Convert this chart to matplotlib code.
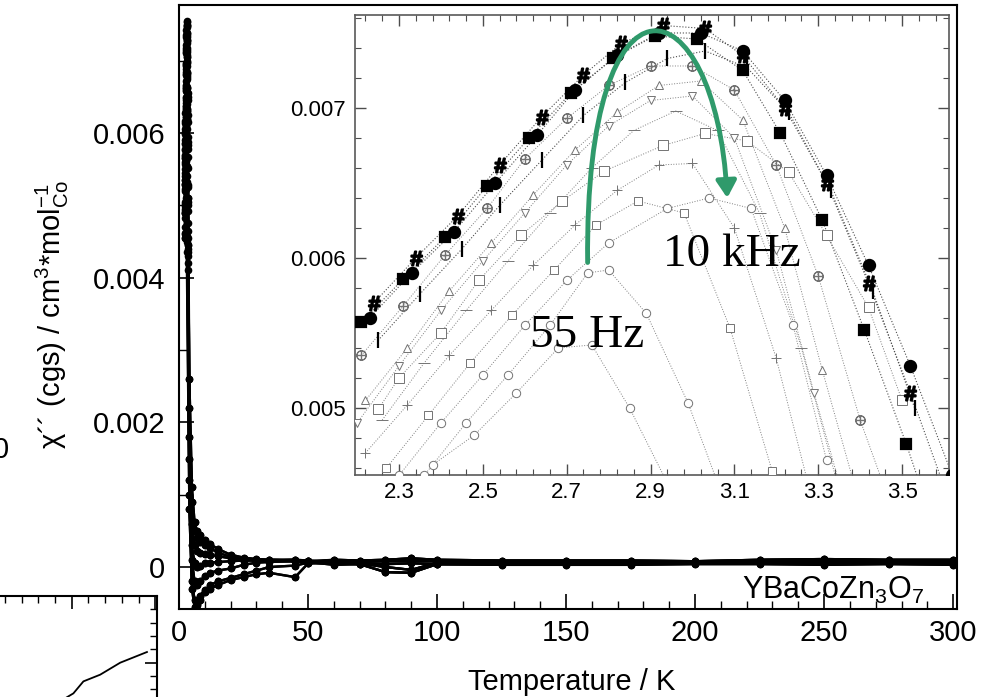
import numpy as np
import matplotlib
matplotlib.use('Agg')
import matplotlib.pyplot as plt
from matplotlib.ticker import MultipleLocator, FixedLocator, FuncFormatter
from matplotlib.patches import FancyArrowPatch
from matplotlib.path import Path

plt.rcParams['font.family'] = ['Liberation Sans', 'DejaVu Sans']
plt.rcParams['mathtext.fontset'] = 'custom'
plt.rcParams['mathtext.rm'] = 'Liberation Sans'
plt.rcParams['mathtext.it'] = 'Liberation Sans:italic'

# =============================================================================
# Inset data: chi'' (1e-3 cgs) vs T (K), one curve per frequency
# =============================================================================

T_A = [2.23, 2.33, 2.43, 2.53, 2.63, 2.72, 2.82, 2.92, 3.02, 3.12, 3.22, 3.32, 3.42, 3.52, 3.62]
y_A = [5.60, 5.90, 6.17, 6.50, 6.82, 7.12, 7.35, 7.50, 7.50, 7.38, 7.05, 6.55, 5.95, 5.28, 4.55]
T_B = [2.24, 2.34, 2.44, 2.54, 2.64, 2.74, 2.83, 2.93, 3.03, 3.12, 3.22, 3.32, 3.42, 3.52, 3.61]
y_B = [5.70, 6.00, 6.28, 6.62, 6.94, 7.22, 7.43, 7.55, 7.53, 7.35, 7.00, 6.50, 5.83, 5.10, 4.40]
T_C = [2.21, 2.31, 2.41, 2.51, 2.61, 2.71, 2.81, 2.91, 3.01, 3.12, 3.21, 3.31, 3.41, 3.51, 3.59]
y_C = [5.57, 5.86, 6.14, 6.48, 6.80, 7.10, 7.33, 7.48, 7.46, 7.25, 6.83, 6.25, 5.52, 4.76, 4.10]
T_D = [2.25, 2.35, 2.45, 2.54, 2.64, 2.74, 2.84, 2.94, 3.03, 3.13, 3.23, 3.33, 3.43, 3.53]
y_D = [5.45, 5.76, 6.06, 6.35, 6.65, 6.95, 7.17, 7.33, 7.38, 7.27, 6.97, 6.45, 5.78, 5.00]
T_E = [2.21, 2.31, 2.41, 2.51, 2.60, 2.70, 2.80, 2.90, 3.00, 3.10, 3.20, 3.30, 3.40, 3.48]
y_E = [5.35, 5.68, 6.02, 6.33, 6.66, 6.93, 7.15, 7.28, 7.28, 7.12, 6.62, 5.88, 4.92, 4.30]
T_F = [2.22, 2.32, 2.42, 2.52, 2.62, 2.72, 2.82, 2.92, 3.02, 3.12, 3.22, 3.31, 3.40]
y_F = [5.05, 5.40, 5.78, 6.10, 6.42, 6.72, 6.97, 7.15, 7.18, 6.92, 6.20, 5.25, 4.35]
T_G = [2.20, 2.30, 2.40, 2.50, 2.60, 2.70, 2.80, 2.90, 3.00, 3.10, 3.20, 3.29, 3.38]
y_G = [4.90, 5.28, 5.65, 5.98, 6.30, 6.62, 6.88, 7.05, 7.08, 6.80, 6.05, 5.10, 4.20]
T_H = [2.26, 2.36, 2.46, 2.56, 2.66, 2.76, 2.86, 2.96, 3.06, 3.16, 3.26, 3.35]
y_H = [4.92, 5.30, 5.65, 5.98, 6.30, 6.60, 6.85, 6.98, 6.85, 6.30, 5.40, 4.45]
T_I = [2.25, 2.30, 2.40, 2.49, 2.59, 2.69, 2.79, 2.93, 3.03, 3.13, 3.23, 3.32, 3.42, 3.50]
y_I = [4.99, 5.20, 5.50, 5.85, 6.15, 6.38, 6.58, 6.75, 6.83, 6.78, 6.57, 6.15, 5.67, 5.05]
T_J = [2.22, 2.32, 2.42, 2.52, 2.62, 2.72, 2.82, 2.92, 3.00, 3.10, 3.20, 3.28]
y_J = [4.70, 5.02, 5.35, 5.65, 5.95, 6.22, 6.45, 6.62, 6.63, 6.20, 5.33, 4.45]
T_K = [2.27, 2.37, 2.47, 2.57, 2.67, 2.77, 2.87, 2.98, 3.09, 3.19]
y_K = [4.60, 4.95, 5.30, 5.62, 5.92, 6.22, 6.38, 6.30, 5.53, 4.58]
T_L = [2.30, 2.40, 2.50, 2.60, 2.70, 2.80, 2.94, 3.04, 3.14, 3.24, 3.32]
y_L = [4.55, 4.90, 5.22, 5.55, 5.85, 6.10, 6.33, 6.40, 6.33, 5.55, 4.65]
T_M = [2.36, 2.46, 2.56, 2.66, 2.75, 2.80, 2.89, 2.99, 3.08]
y_M = [4.55, 4.90, 5.22, 5.55, 5.90, 5.92, 5.63, 5.03, 4.35]
T_N = [2.38, 2.48, 2.58, 2.68, 2.76, 2.85, 2.94]
y_N = [4.62, 4.82, 5.10, 5.40, 5.42, 5.00, 4.50]

# main plot continuation (1e-3 cgs)
T_fan = [4, 5, 6, 7, 8, 10, 12, 15, 20, 25, 30, 35, 45, 50]
fan0 = [2.6, 1.1, 0.62, 0.50, 0.44, 0.37, 0.32, 0.25, 0.17, 0.13, 0.11, 0.10, 0.09, 0.08]
fan1 = [2.2, 0.9, 0.50, 0.40, 0.35, 0.30, 0.26, 0.20, 0.14, 0.11, 0.10, 0.10, 0.10, 0.09]
fan2 = [1.8, 0.6, 0.30, 0.22, 0.20, 0.18, 0.17, 0.15, 0.12, 0.10, 0.09, 0.09, 0.08, 0.07]
fan3 = [1.5, 0.3, 0.05, 0.00, 0.02, 0.05, 0.06, 0.07, 0.08, 0.09, 0.09, 0.09, 0.10, 0.08]
fan4 = [1.2, 0.1, -0.20, -0.25, -0.20, -0.12, -0.08, -0.05, -0.02, 0.03, 0.06, 0.07, 0.08, 0.07]
fan5 = [1.0, -0.2, -0.45, -0.50, -0.40, -0.32, -0.25, -0.20, -0.15, -0.10, -0.05, 0.00, 0.02, 0.06]
fan6 = [0.8, -0.3, -0.55, -0.52, -0.45, -0.35, -0.30, -0.25, -0.18, -0.14, -0.10, -0.08, -0.14, 0.05]

T_tail = [60, 70, 80, 90, 100, 125, 150, 175, 200, 225, 250, 275, 300]
tail0 = [0.10, 0.09, 0.10, 0.12, 0.10, 0.09, 0.09, 0.09, 0.08, 0.10, 0.11, 0.10, 0.10]
tail1 = [0.08, 0.07, 0.08, 0.08, 0.08, 0.07, 0.07, 0.07, 0.07, 0.08, 0.09, 0.09, 0.08]
tail2 = [0.06, 0.05, 0.00, -0.04, 0.06, 0.06, 0.05, 0.06, 0.06, 0.07, 0.08, 0.07, 0.06]
tail3 = [0.05, 0.04, -0.07, -0.08, 0.04, 0.04, 0.04, 0.05, 0.05, 0.06, 0.05, 0.06, 0.05]
tail4 = [0.03, 0.04, 0.04, 0.05, 0.04, 0.03, 0.03, 0.03, 0.04, 0.04, 0.03, 0.04, 0.03]

# partial neighbouring panel (cut off at lower left)
x_side = [240, 247, 251, 257, 267, 279, 295]
y_side = [1.8, 2.4, 2.7, 3.6, 4.1, 5.0, 5.8]

fans = [fan0, fan1, fan2, fan3, fan4, fan5, fan6]
tails = [tail0, tail1, tail2, tail3, tail4]

# (T, y, marker, size, filled, fan, tail)
curves = [
    (T_A, y_A, 'o', 8, True, 0, 0),
    (T_B, y_B, r'$\#$', 10, True, 1, 1),
    (T_C, y_C, 's', 7.5, True, 0, 2),
    (T_D, y_D, '|', 11, True, 1, 3),
    (T_E, y_E, r'$\oplus$', 7, False, 2, 4),
    (T_F, y_F, '^', 6, False, 2, 0),
    (T_G, y_G, 'v', 6, False, 3, 1),
    (T_H, y_H, '_', 9, False, 3, 2),
    (T_I, y_I, 's', 7, False, 4, 3),
    (T_J, y_J, '+', 7, False, 4, 4),
    (T_K, y_K, 's', 6, False, 5, 0),
    (T_L, y_L, 'o', 6, False, 5, 1),
    (T_M, y_M, 'o', 6, False, 6, 2),
    (T_N, y_N, 'o', 6, False, 6, 3),
]

# =============================================================================
# Figure
# =============================================================================

fig = plt.figure(figsize=(9.98, 6.97), dpi=100)
ax = fig.add_axes([0.1794, 0.1263, 0.7795, 0.8665])

for T, y, m, ms, filled, fi, ti in curves:
    TT = list(T) + T_fan + T_tail
    yy = np.array(list(y) + fans[fi] + tails[ti]) * 1e-3
    ax.plot(TT, yy, '-', color='k', lw=1.7, marker='o', ms=4.5, mec='k', mfc='k')

ax.set_xlim(0, 301.5)
ax.set_ylim(-0.00058, 0.00777)
ax.xaxis.set_major_locator(MultipleLocator(50))
ax.xaxis.set_minor_locator(MultipleLocator(10))
ax.yaxis.set_major_locator(MultipleLocator(0.002))
ax.yaxis.set_minor_locator(MultipleLocator(0.001))
ax.yaxis.set_major_formatter(FuncFormatter(lambda v, p: '0' if abs(v) < 1e-9 else '%g' % v))
ax.tick_params(which='both', direction='in', top=False, right=False, labelsize=21)
ax.tick_params(which='major', length=11, width=1.2)
ax.tick_params(which='minor', length=6, width=1.0)
ax.tick_params(axis='x', pad=7)
ax.tick_params(axis='y', pad=10)
for s in ax.spines.values():
    s.set_linewidth(1.5)
ax.text(0.958, 0.03, 'YBaCoZn$_3$O$_7$', transform=ax.transAxes, ha='right',
        va='center', fontsize=22)

fig.text(572 / 998, 1 - 682 / 697, 'Temperature / K', ha='center', va='center', fontsize=21)
fig.text(52 / 998, 1 - 315 / 697, '\u03c7\u00b4\u00b4 (cgs) / cm$^{3}$*mol$_{\\mathrm{Co}}^{-1}$',
         rotation=90, ha='center', va='center', fontsize=21)

# =============================================================================
# Inset
# =============================================================================

ins = fig.add_axes([0.3557, 0.3185, 0.5952, 0.6600])
ins.set_zorder(5)
for T, y, m, ms, filled, fi, ti in curves:
    yy = np.array(y) * 1e-3
    if filled:
        ins.plot(T, yy, ls=':', color='0.3', lw=0.8, zorder=2)
        ins.plot(T, yy, ls='none', marker=m, ms=ms, color='k', mew=1.6, zorder=4)
    else:
        ins.plot(T, yy, ls=':', color='0.5', lw=0.7, zorder=2)
        ins.plot(T, yy, ls='none', marker=m, ms=ms, mfc='white', mec='0.45',
                 color='0.45', mew=0.7, zorder=3)

ins.set_xlim(2.195, 3.612)
ins.set_ylim(0.004553, 0.00762)
ins.xaxis.set_major_locator(FixedLocator([2.3, 2.5, 2.7, 2.9, 3.1, 3.3, 3.5]))
ins.xaxis.set_minor_locator(MultipleLocator(0.04, offset=0.02))
ins.yaxis.set_major_locator(MultipleLocator(0.001))
ins.yaxis.set_minor_locator(MultipleLocator(0.0002))
ins.xaxis.set_major_formatter(FuncFormatter(lambda v, p: '%.1f' % v))
ins.yaxis.set_major_formatter(FuncFormatter(lambda v, p: '%.3f' % v))
ins.tick_params(which='both', direction='in', top=True, right=True, labelsize=16,
                color='0.3')
ins.tick_params(which='major', length=8, width=1.0)
ins.tick_params(which='minor', length=4.5, width=0.8)
ins.tick_params(axis='y', pad=7)
ins.tick_params(axis='x', pad=5)
for s in ins.spines.values():
    s.set_linewidth(1.2)
    s.set_color('0.35')

# green arrow from 55 Hz to 10 kHz
verts = [(2.750, 0.00597), (2.742, 0.00805), (3.055, 0.00785), (3.083, 0.00640)]
path = Path(verts, [Path.MOVETO, Path.CURVE4, Path.CURVE4, Path.CURVE4])
arr = FancyArrowPatch(path=path, arrowstyle='-|>,head_length=10,head_width=6',
                      color='#2f9a6b', lw=3.5, zorder=6)
ins.add_patch(arr)
ins.text(0.5185, 0.454, '10 kHz', transform=ins.transAxes, fontsize=34,
         family='Liberation Serif', ha='left', va='baseline', zorder=7)
ins.text(0.2946, 0.278, '55 Hz', transform=ins.transAxes, fontsize=34,
         family='Liberation Serif', ha='left', va='baseline', zorder=7)

# =============================================================================
# Edge of the neighbouring panel
# =============================================================================

side = fig.add_axes([-0.30, -0.30, 0.4573, 0.4449])
side.plot(x_side, y_side, color='k', lw=1.3)
side.set_xlim(28, 301)
side.set_ylim(-13.25, 10)
side.xaxis.set_major_locator(MultipleLocator(50))
side.xaxis.set_minor_locator(MultipleLocator(10))
side.yaxis.set_major_locator(MultipleLocator(5))
side.yaxis.set_minor_locator(MultipleLocator(1))
side.tick_params(which='both', direction='in', top=True, right=True, bottom=False,
                 left=False, labelbottom=False, labelleft=False)
side.tick_params(which='major', length=9, width=1.2)
side.tick_params(which='minor', length=5, width=1.0)
for s in side.spines.values():
    s.set_linewidth(1.5)
fig.text(0.009, 1 - 450 / 697, '0', ha='right', va='center', fontsize=21)

plt.savefig('out.png', dpi=100)
